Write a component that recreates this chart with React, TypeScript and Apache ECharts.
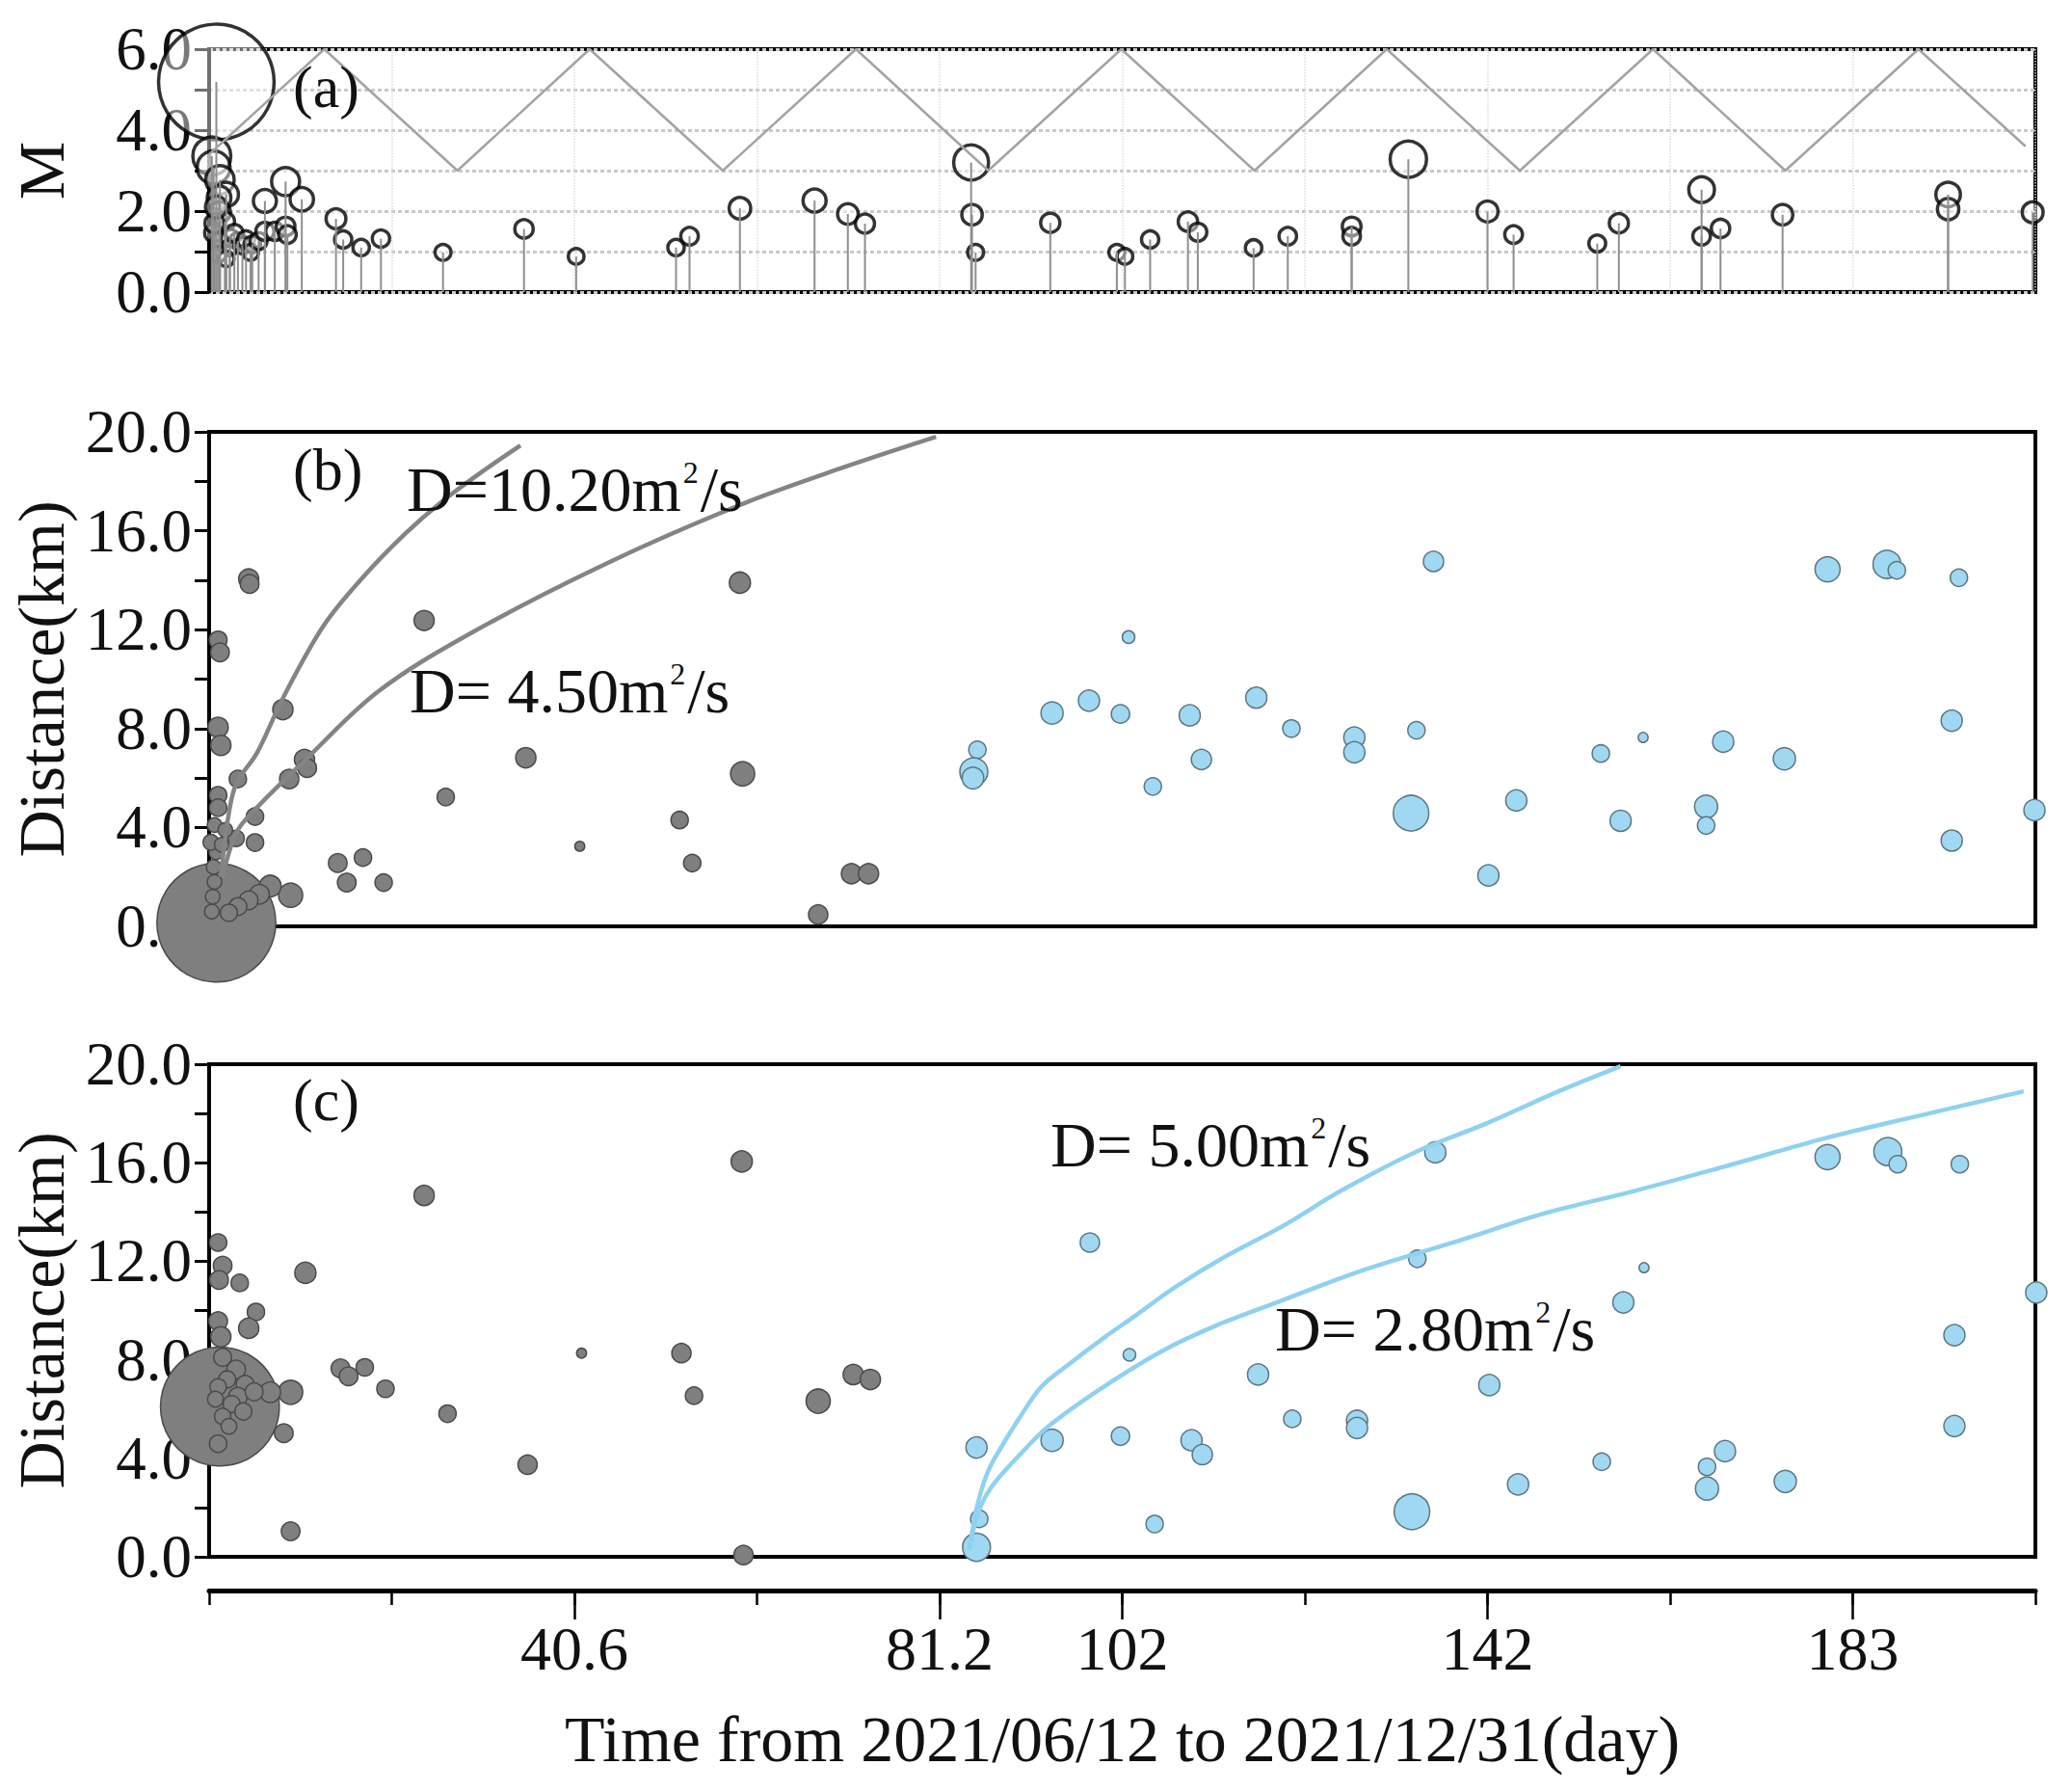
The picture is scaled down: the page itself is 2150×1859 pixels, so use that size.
import React, { useEffect, useRef } from "react";
import * as echarts from "echarts";

// ---------- axis settings ----------
const X_MIN = 0;
const X_MAX = 203;
const X_STEP = 20.3;
const xTickValues = [40.6, 81.2, 101.5, 142.1, 182.7];
const xTickLabels = ["40.6", "81.2", "102", "142", "183"];
const BLUE_START_DAY = 84;

// ---------- panel (a): magnitude events [day, M] ----------
const magEvents = [
  [0.8, 5.19],
  [0.3, 3.36], [0.5, 3.08], [1.2, 2.77], [1.9, 2.41], [1.1, 2.33], [1.2, 1.97], [1.75, 1.74],
  [0.5, 1.46], [1.2, 1.26], [2.3, 1.34], [3.2, 1.26], [2.3, 1.1], [1.0, 0.94], [1.9, 0.82],
  [0.6, 1.7], [0.8, 2.1], [2.8, 1.45], [3.7, 1.15],
  [4.1, 1.3], [4.8, 1.18], [4.6, 0.98], [5.5, 1.26], [6.2, 1.5], [6.2, 2.25], [7.3, 1.5],
  [8.5, 2.73], [8.5, 1.62], [8.7, 1.42], [10.3, 2.29],
  [14.1, 1.81], [14.9, 1.3], [16.9, 1.1], [19.1, 1.32], [26.0, 0.98], [35.0, 1.56], [40.8, 0.88],
  [51.9, 1.1], [53.4, 1.38], [59.0, 2.07], [67.3, 2.26], [71.0, 1.93], [72.9, 1.69],
  [84.7, 3.2], [84.8, 1.91], [85.2, 0.98], [93.5, 1.71],
  [100.9, 0.98], [101.8, 0.88], [104.6, 1.3], [108.8, 1.74], [109.9, 1.48], [116.1, 1.09],
  [119.9, 1.38], [127.0, 1.62], [127.0, 1.38], [133.3, 3.28], [142.1, 1.99], [145.0, 1.42],
  [154.3, 1.2], [156.7, 1.7], [165.9, 2.53], [165.9, 1.38], [168.0, 1.57], [174.9, 1.91],
  [193.3, 2.41], [193.3, 2.05], [202.7, 1.97],
];

// zig-zag reference line in panel (a) [day, value]
const zigzagLine = [
  [0, 3.4], [12.8, 6.0], [27.6, 3.0], [42.3, 6.0], [57.1, 3.0], [71.9, 6.0], [86.6, 3.0],
  [101.4, 6.0], [116.2, 3.0], [130.9, 6.0], [145.7, 3.0], [160.5, 6.0], [175.2, 3.0],
  [190.0, 6.0], [201.9, 3.6],
];

// ---------- panel (b): distance from first event [day, km, mag] ----------
const grayB = [
  [0.8, 0.15, 5.2],
  [4.4, 14.05, 2.45], [4.5, 13.85, 2.3], [1.0, 11.58, 2.2], [1.2, 11.08, 2.3],
  [23.9, 12.37, 2.45], [59.0, 13.9, 2.56], [8.2, 8.77, 2.47], [1.0, 8.05, 2.47], [1.3, 7.32, 2.47],
  [35.2, 6.82, 2.47], [59.3, 6.17, 2.81], [10.6, 6.75, 2.47], [10.9, 6.4, 2.3], [8.9, 5.96, 2.37],
  [3.2, 5.96, 2.14], [26.3, 5.23, 2.14], [1.0, 5.3, 2.14], [1.0, 4.8, 2.14], [5.1, 4.44, 2.14],
  [5.1, 3.39, 2.14], [52.3, 4.3, 2.14], [41.2, 3.24, 0.3], [53.7, 2.56, 2.14],
  [14.3, 2.56, 2.3], [17.1, 2.78, 2.14], [15.3, 1.77, 2.3], [19.4, 1.77, 2.14],
  [71.4, 2.13, 2.47], [73.3, 2.13, 2.47], [67.7, 0.48, 2.37],
  [9.06, 1.26, 2.81], [6.8, 1.63, 2.6], [5.6, 1.3, 2.4], [4.4, 1.05, 2.3], [3.2, 0.8, 2.2], [2.2, 0.55, 2.1],
  [0.3, 0.6, 1.7], [0.4, 1.2, 1.7], [0.6, 1.8, 1.7], [0.5, 2.4, 1.7], [0.8, 3.0, 1.7], [0.2, 3.4, 1.9],
  [1.4, 3.3, 1.7], [3.0, 3.56, 2.0], [0.6, 4.1, 1.7], [1.8, 3.9, 1.7],
];
const blueB = [
  [136.1, 14.76, 2.47], [179.9, 14.44, 2.88], [186.5, 14.64, 3.07], [187.6, 14.4, 2.14], [194.5, 14.1, 2.14],
  [102.2, 11.7, 1.28], [93.7, 8.63, 2.65], [97.8, 9.13, 2.56], [101.3, 8.59, 2.26], [109.0, 8.53, 2.56],
  [116.4, 9.25, 2.56], [120.3, 8.0, 2.14], [127.3, 7.64, 2.56], [127.3, 7.04, 2.56], [134.2, 7.93, 2.14],
  [154.7, 6.99, 2.14], [159.4, 7.64, 0.3], [168.3, 7.47, 2.56], [175.1, 6.78, 2.65], [193.7, 8.32, 2.56],
  [85.4, 7.14, 2.14], [85.0, 6.25, 3.07], [84.9, 6.0, 2.6], [110.3, 6.75, 2.47], [104.9, 5.66, 2.14],
  [133.6, 4.58, 3.47], [145.3, 5.09, 2.56], [156.9, 4.27, 2.56], [166.4, 4.84, 2.73], [166.4, 4.08, 2.14],
  [142.2, 2.06, 2.56], [193.7, 3.47, 2.56], [202.9, 4.7, 2.56],
];
const diffusionB_D1020 = [
  [1.3, 2.0], [2.2, 4.6], [3.05, 5.8], [5.3, 7.0], [8.3, 9.3], [12.8, 12.2], [17.3, 14.2],
  [21.85, 15.9], [25.6, 17.1], [30.0, 18.3], [34.6, 19.45],
];
const diffusionB_D450 = [
  [1.5, 2.0], [3.05, 3.8], [5.3, 4.8], [10.6, 6.7], [18.8, 9.5], [29.3, 11.9], [44.3, 14.7],
  [59.4, 17.1], [70.0, 18.5], [80.8, 19.8],
];

// ---------- panel (c): distance from day-84 event [day, km, mag] ----------
const grayC = [
  [1.2, 6.1, 5.2],
  [59.2, 16.05, 2.56], [23.9, 14.67, 2.47], [10.7, 11.53, 2.56],
  [1.0, 12.76, 2.14], [1.5, 11.82, 2.3], [1.1, 11.24, 2.3], [3.4, 11.12, 2.14],
  [5.2, 9.94, 2.14], [4.4, 9.28, 2.47], [1.0, 9.57, 2.3], [1.3, 8.93, 2.47],
  [41.4, 8.27, 0.3], [52.5, 8.27, 2.37],
  [14.6, 7.65, 2.3], [15.5, 7.33, 2.3], [17.3, 7.69, 2.14], [19.6, 6.82, 2.14],
  [71.6, 7.4, 2.47], [73.5, 7.2, 2.47], [53.9, 6.54, 2.14], [67.7, 6.32, 2.81],
  [9.06, 6.68, 2.81], [6.8, 6.68, 2.5], [26.5, 5.81, 2.14], [8.3, 5.02, 2.3], [1.0, 4.59, 2.14],
  [35.4, 3.74, 2.37], [9.06, 1.04, 2.3], [59.4, 0.07, 2.37],
  [1.5, 8.1, 2.2], [3.0, 7.6, 2.3], [2.0, 7.2, 2.1], [4.0, 7.0, 2.2], [3.2, 6.5, 2.3], [5.0, 6.7, 2.2],
  [1.0, 6.9, 2.0], [2.5, 6.2, 2.1], [1.5, 5.7, 2.0], [3.8, 5.9, 2.1], [0.7, 6.4, 1.9], [2.2, 5.3, 1.9],
];
const blueC = [
  [85.3, 0.39, 3.07], [85.6, 1.54, 2.14], [85.3, 4.44, 2.56], [93.7, 4.73, 2.65], [97.9, 12.76, 2.37],
  [101.3, 4.9, 2.26], [102.3, 8.2, 1.28], [105.1, 1.33, 2.14], [109.2, 4.73, 2.56], [110.4, 4.15, 2.47],
  [116.6, 7.4, 2.56], [120.4, 5.6, 2.14], [127.6, 5.52, 2.56], [127.6, 5.23, 2.56], [133.7, 1.83, 3.47],
  [134.3, 12.1, 2.14], [136.3, 16.42, 2.56], [142.3, 6.97, 2.56], [145.5, 2.94, 2.56], [154.8, 3.86, 2.14],
  [157.2, 10.33, 2.56], [159.5, 11.74, 0.3], [168.5, 4.29, 2.56], [166.5, 3.65, 2.14], [166.5, 2.77, 2.73],
  [175.2, 3.06, 2.65], [179.9, 16.23, 2.88], [186.6, 16.45, 3.07], [187.7, 15.94, 2.14], [194.6, 15.94, 2.14],
  [194.0, 9.0, 2.56], [194.0, 5.31, 2.56], [203.1, 10.73, 2.56],
];
const diffusionC_D500 = [
  [84.5, 0.3], [85.4, 2.1], [86.5, 3.4], [87.8, 4.3], [90.0, 5.6], [92.5, 6.9], [95.5, 7.8],
  [99.6, 8.93], [103.0, 9.8], [107.4, 10.95], [113.0, 12.2], [119.2, 13.4], [126.0, 14.9],
  [134.2, 16.45], [142.0, 17.6], [150.0, 18.9], [156.9, 19.92],
];
const diffusionC_D280 = [
  [84.5, 0.3], [85.5, 1.8], [87.0, 2.85], [90.0, 4.1], [93.3, 5.3], [99.0, 6.8], [105.9, 8.35],
  [112.0, 9.4], [119.2, 10.4], [128.0, 11.6], [138.9, 12.83], [148.0, 13.9], [158.5, 14.86],
  [169.0, 15.9], [179.7, 17.0], [190.0, 17.9], [201.7, 18.9],
];

// ---------- styling ----------
const FONT = '"Liberation Serif", "Times New Roman", serif';
const TXT = "#111";
const TICK_FS = 63;
const NAME_FS = 68;
const GRAY_FILL = "#7f7f7f";
const GRAY_EDGE = "#4a4a4a";
const BLUE_FILL = "#a0d8f1";
const BLUE_EDGE = "#5b7682";
const BLUE_LINE = "#8fd1f1";

const sizeA = (m: number) => 12 + 2.2 * Math.exp(0.75 * m);
const sizeBC = (m: number) => 8 + 1.8 * Math.exp(0.8 * m);

const GRID_L = 217;
const GRID_W = 1895;

function buildOption() {
  const panelGrid = (top: number, height: number) => ({
    left: GRID_L, width: GRID_W, top, height,
    show: true, borderColor: "#000", borderWidth: 4, backgroundColor: "transparent",
  });
  const hiddenX = (gi: number, split: boolean) => ({
    type: "value", gridIndex: gi, min: X_MIN, max: X_MAX, interval: X_STEP,
    axisLine: { show: false }, axisTick: { show: false }, axisLabel: { show: false },
    splitLine: { show: split, lineStyle: { color: "#dcdcdc", type: "dotted", width: 1.5 } },
  });
  const tickStyle = { color: "#000", width: 3 };
  const yAxisPanel = (gi: number, max: number, interval: number, name: string, split: boolean) => ({
    type: "value", gridIndex: gi, min: 0, max, interval,
    axisLine: { show: true, onZero: false, lineStyle: { color: "#000", width: 3 } },
    axisTick: { show: true, inside: false, length: 15, lineStyle: tickStyle },
    minorTick: { show: true, splitNumber: 2, length: 15, lineStyle: tickStyle },
    axisLabel: {
      margin: 18, fontSize: TICK_FS, fontFamily: FONT, color: TXT,
      formatter: (v: number) => v.toFixed(1),
    },
    splitLine: { show: split, lineStyle: { color: "#c9c9c9", type: [4, 3], width: 3 } },
    minorSplitLine: { show: split, lineStyle: { color: "#c9c9c9", type: [4, 3], width: 3 } },
    name, nameLocation: "middle", nameGap: 140,
    nameTextStyle: { fontSize: NAME_FS, fontFamily: FONT, color: TXT },
  });

  const scatterBC = (xi: number, data: number[][], fill: string, edge: string) => ({
    type: "scatter", xAxisIndex: xi, yAxisIndex: xi, data, clip: false, z: 2,
    symbol: "circle",
    symbolSize: (v: number[]) => sizeBC(v[2]),
    itemStyle: { color: fill, borderColor: edge, borderWidth: 1.5, opacity: 1 },
    silent: true,
  });
  const curve = (xi: number, data: number[][], color: string, width: number) => ({
    type: "line", xAxisIndex: xi, yAxisIndex: xi, data, symbol: "none", smooth: 0.35,
    lineStyle: { color, width }, z: 3, silent: true, clip: true,
  });

  const richLabel = (x: number, y: number, main: string, tail: string) => ({
    type: "text", x, y, z: 10,
    style: {
      text: `{n|${main}}{s|2}{n|${tail}}`,
      verticalAlign: "middle", align: "left",
      rich: {
        n: { fontSize: 66, fontFamily: FONT, fill: TXT },
        s: { fontSize: 32, fontFamily: FONT, fill: TXT, verticalAlign: "top", padding: [0, 2, 0, 2] },
      },
    },
  });
  const panelTag = (x: number, y: number, t: string) => ({
    type: "text", x, y, z: 10,
    style: { text: t, fontSize: 62, fontFamily: FONT, fill: TXT, verticalAlign: "middle", align: "left" },
  });

  return {
    animation: false,
    backgroundColor: "#fff",
    grid: [
      panelGrid(51, 252),
      panelGrid(448, 513),
      panelGrid(1104, 511),
      { left: GRID_L, width: GRID_W, top: 1640, height: 10, show: false },
      { left: GRID_L, width: GRID_W, top: 1640, height: 10, show: false },
    ],
    xAxis: [
      hiddenX(0, true),
      hiddenX(1, false),
      hiddenX(2, false),
      {
        type: "value", gridIndex: 3, min: X_MIN, max: X_MAX, interval: X_STEP, position: "bottom",
        axisLine: { show: true, onZero: false, lineStyle: { color: "#000", width: 5 } },
        axisTick: { show: true, inside: false, length: 15, lineStyle: { color: "#000", width: 2.5 } },
        axisLabel: { show: false }, splitLine: { show: false },
      },
      {
        type: "value", gridIndex: 4, min: X_MIN, max: X_MAX, position: "bottom",
        axisLine: { show: false, onZero: false },
        axisTick: { show: true, inside: false, length: 30, customValues: xTickValues,
          lineStyle: { color: "#000", width: 2.5 } },
        axisLabel: {
          show: true, customValues: xTickValues, margin: 28, fontSize: TICK_FS + 1, fontFamily: FONT, color: TXT,
          formatter: (v: number) => {
            const i = xTickValues.findIndex((t) => Math.abs(t - v) < 1e-6);
            return i >= 0 ? xTickLabels[i] : "";
          },
        },
        splitLine: { show: false },
        name: "Time from 2021/06/12 to 2021/12/31(day)",
        nameLocation: "middle", nameGap: 120,
        nameTextStyle: { fontSize: NAME_FS, fontFamily: FONT, color: TXT },
      },
    ],
    yAxis: [
      yAxisPanel(0, 6, 2, "M", true),
      yAxisPanel(1, 20, 4, "Distance(km)", false),
      yAxisPanel(2, 20, 4, "Distance(km)", false),
      { type: "value", gridIndex: 3, min: 0, max: 1, show: false },
      { type: "value", gridIndex: 4, min: 0, max: 1, show: false },
    ],
    series: [
      {
        type: "scatter", xAxisIndex: 0, yAxisIndex: 0, data: magEvents, clip: false, z: 2,
        symbol: "circle", symbolSize: (v: number[]) => sizeA(v[1]),
        itemStyle: { color: "rgba(255,255,255,0.55)", borderColor: "#000", borderWidth: 3.5 },
        silent: true,
      },
      {
        type: "custom", xAxisIndex: 0, yAxisIndex: 0, data: magEvents, z: 3, silent: true,
        encode: { x: 0, y: 1 },
        renderItem: (_p: any, api: any) => {
          const x = api.value(0);
          const m = api.value(1);
          const p0 = api.coord([x, 0]);
          const p1 = api.coord([x, m]);
          return {
            type: "line",
            shape: { x1: p0[0], y1: p0[1], x2: p1[0], y2: p1[1] },
            style: { stroke: "#8f8f8f", lineWidth: 2 },
          };
        },
      },
      {
        type: "line", xAxisIndex: 0, yAxisIndex: 0, data: zigzagLine, symbol: "none", z: 3,
        lineStyle: { color: "#a3a3a3", width: 2.5 }, silent: true,
      },
      scatterBC(1, grayB.filter((d) => d[0] < BLUE_START_DAY), GRAY_FILL, GRAY_EDGE),
      scatterBC(1, blueB.filter((d) => d[0] >= BLUE_START_DAY), BLUE_FILL, BLUE_EDGE),
      curve(1, diffusionB_D1020, "#848484", 4.5),
      curve(1, diffusionB_D450, "#848484", 4.5),
      scatterBC(2, grayC.filter((d) => d[0] < BLUE_START_DAY), GRAY_FILL, GRAY_EDGE),
      scatterBC(2, blueC.filter((d) => d[0] >= BLUE_START_DAY), BLUE_FILL, BLUE_EDGE),
      curve(2, diffusionC_D500, BLUE_LINE, 4.5),
      curve(2, diffusionC_D280, BLUE_LINE, 4.5),
      { type: "scatter", xAxisIndex: 3, yAxisIndex: 3, data: [] },
      { type: "scatter", xAxisIndex: 4, yAxisIndex: 4, data: [] },
    ],
    graphic: [
      panelTag(304, 90, "(a)"),
      panelTag(304, 487, "(b)"),
      panelTag(304, 1141, "(c)"),
      richLabel(422, 507, "D=10.20m", "/s"),
      richLabel(425, 716, "D= 4.50m", "/s"),
      richLabel(1090, 1187, "D= 5.00m", "/s"),
      richLabel(1323, 1378, "D= 2.80m", "/s"),
    ],
  };
}

export default function App() {
  const ref = useRef<HTMLDivElement>(null);
  useEffect(() => {
    if (!ref.current) return;
    const chart = echarts.init(ref.current, null, { renderer: "svg" });
    chart.setOption(buildOption() as any);
    return () => chart.dispose();
  }, []);
  return (
    <div
      ref={ref}
      style={{ position: "fixed", left: 0, top: 0, width: 2150, height: 1859, background: "#fff" }}
    />
  );
}
